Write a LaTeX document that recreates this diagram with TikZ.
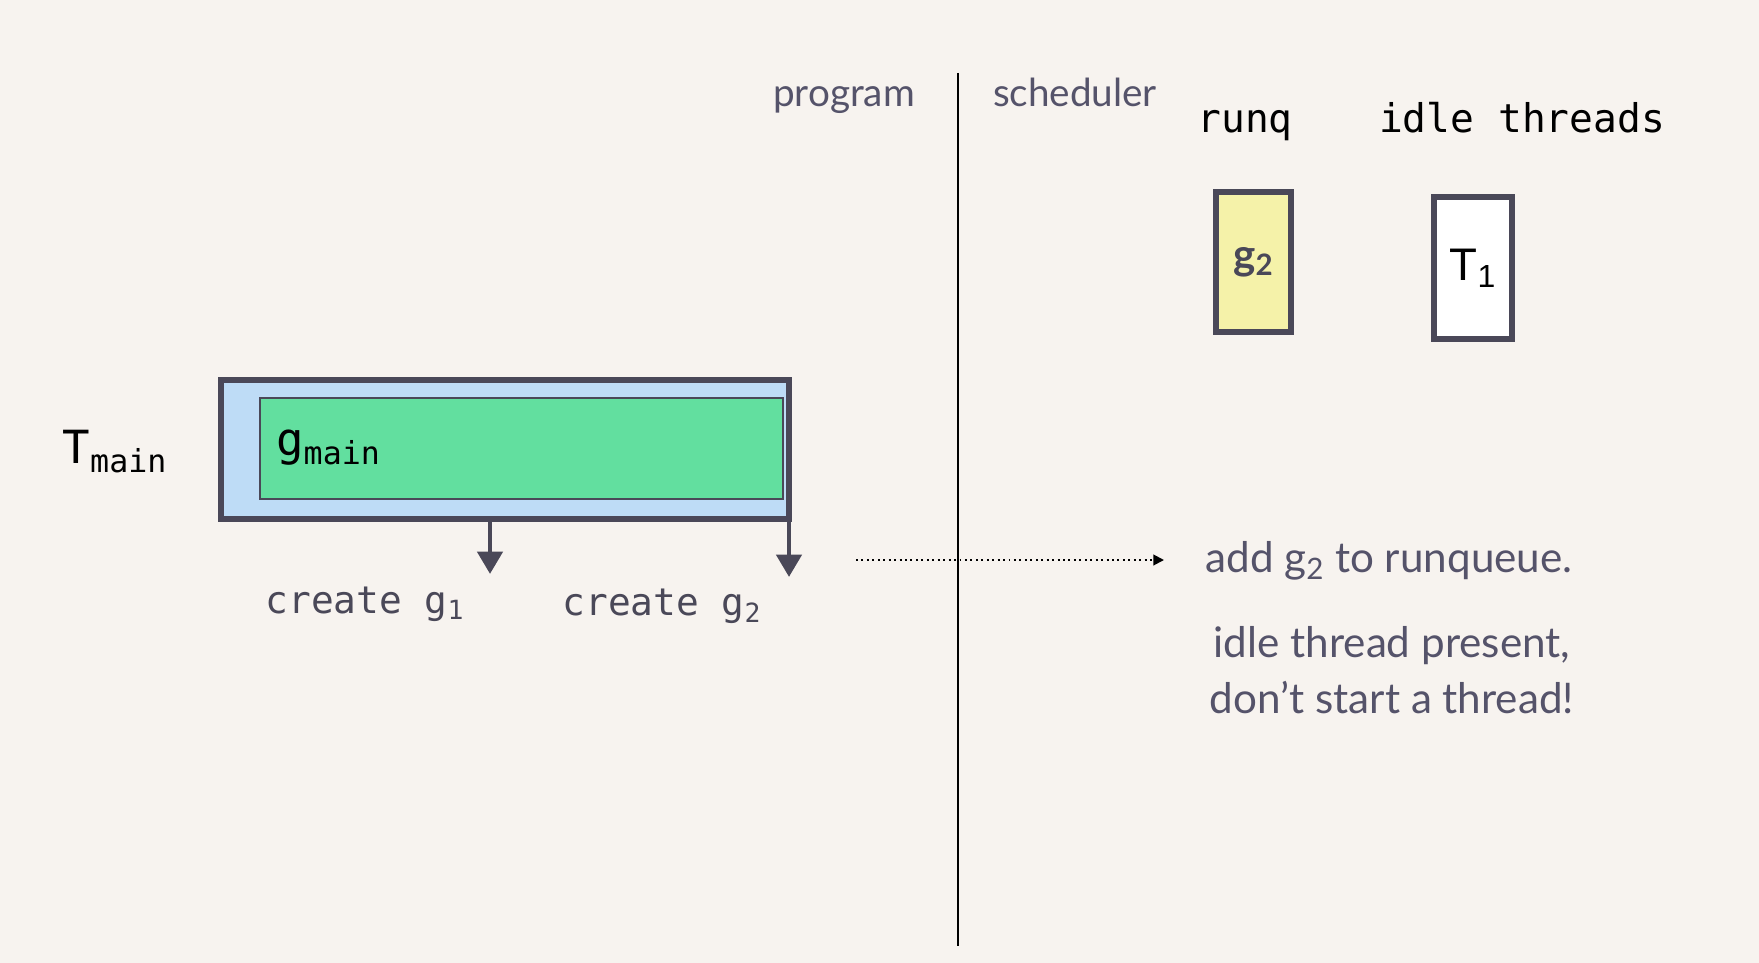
\documentclass[tikz,border=0pt]{standalone}
\usepackage{fontspec}
\setmainfont{Lato}
\newfontfamily\codefont{DejaVu Sans Mono}
\newfontfamily\plainsans{Liberation Sans}
\usetikzlibrary{arrows.meta, positioning}
\definecolor{paper}{HTML}{F7F3EF}
\definecolor{edge}{HTML}{4A4858}
\definecolor{softtext}{HTML}{55536A}
\definecolor{threadblue}{HTML}{BEDCF6}
\definecolor{gorgreen}{HTML}{62DF9F}
\definecolor{queueyellow}{HTML}{F5F2A9}

\begin{document}
\begin{tikzpicture}[
    headtext/.style={text=softtext, anchor=base, font=\fontsize{22}{26}\selectfont},
    codehead/.style={text=black, anchor=base, font=\codefont\fontsize{22.5}{26}\selectfont},
    slot/.style={draw=edge, line width=3.4pt, minimum width=1.5cm, minimum height=2.8cm, inner sep=0},
    createtext/.style={text=edge, font=\codefont\fontsize{21.5}{26}\selectfont},
    note/.style={text=softtext, font=\fontsize{24}{32}\selectfont},
    spawn/.style={-{Triangle[width=0.5cm, length=0.45cm]}, line width=2.8pt, edge}
]
    % background and page size
    \fill[paper] (0,0) rectangle (35.18,-19.26);
    \useasboundingbox (0,0) rectangle (35.18,-19.26);

    % program / scheduler split
    \node[headtext] (prog) at (16.88,-2.14) {program};
    \node[headtext] (sched) at (21.5,-2.14) {scheduler};
    \draw[line width=1.6pt] (19.16,-1.46) -- (19.16,-18.92);

    % scheduler state
    \node[codehead] (runq) at (24.9,-2.66) {runq};
    \node[codehead] (idle) at (30.44,-2.66) {idle threads};
    \node[slot, fill=queueyellow] (g2slot) at (25.07,-5.24) {\bfseries\color{edge}\fontsize{24}{28}\selectfont g\textsubscript{2}};
    \node[slot, fill=white, minimum width=1.56cm, minimum height=2.84cm] (t1slot) at (29.46,-5.36) {\plainsans\fontsize{26}{30}\selectfont T\textsubscript{1}};

    % main thread running main goroutine
    \node[font=\codefont\fontsize{26}{30}\selectfont] (tmain) at (2.3,-9.04) {T\textsubscript{\fontsize{18}{20}\selectfont main}};
    \node[draw=edge, line width=3.4pt, fill=threadblue, minimum width=11.36cm, minimum height=2.78cm, inner sep=0] (tbox) at (10.1,-8.99) {};
    \node[draw=edge, line width=1.1pt, fill=gorgreen, minimum width=10.46cm, minimum height=2.02cm, inner sep=0] (gbox) at (10.43,-8.97) {};
    \node[font=\codefont\fontsize{26}{30}\selectfont, anchor=west] (gmain) at (5.4,-8.95) {g\textsubscript{\fontsize{18}{20}\selectfont main}};

    % go statements
    \coordinate (tip1) at (9.8,-11.48);
    \coordinate (tip2) at (15.78,-11.54);
    \draw[spawn] (tbox.south -| tip1) -- (tip1);
    \draw[spawn] (tbox.south -| tip2) -- (tip2);
    \node[createtext] (create1) at (7.3,-12.08) {create g\textsubscript{1}};
    \node[createtext] (create2) at (13.24,-12.12) {create g\textsubscript{2}};

    % scheduler reaction
    \coordinate (dotstart) at (17.12,-11.2);
    \coordinate (dotend) at (23.28,-11.2);
    \node[note] (addq) at (27.78,-11.22) {add g\textsubscript{2} to runqueue.};
    \node[note, align=center] (present) at (27.84,-13.4) {idle thread present,\\don't start a thread!};
    \draw[dotted, line width=1.1pt, -{Triangle[width=6pt, length=6pt]}] (dotstart) -- (dotend);
\end{tikzpicture}
\end{document}
